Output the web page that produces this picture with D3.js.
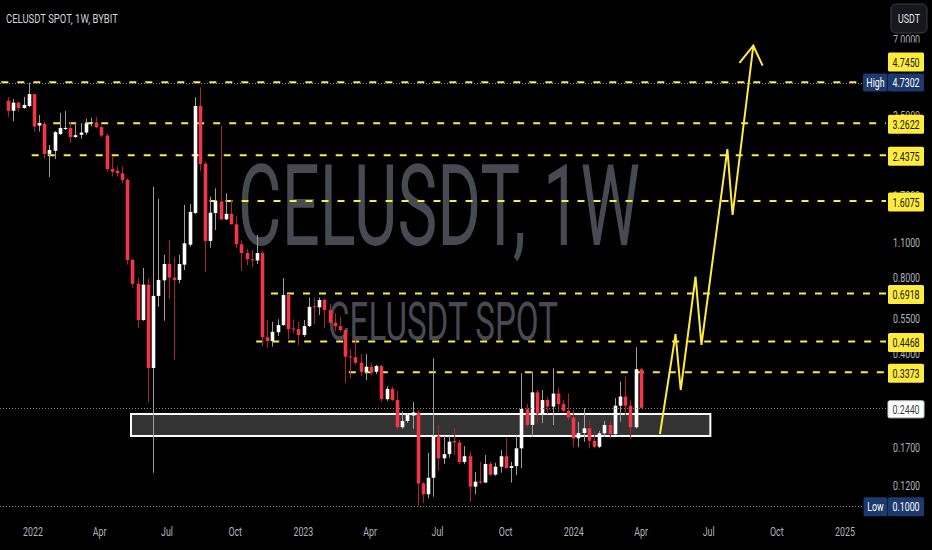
<!DOCTYPE html>
<html>
<head>
<meta charset="utf-8">
<script src="https://cdn.jsdelivr.net/npm/d3@7/dist/d3.min.js"></script>
<style>
html,body{margin:0;padding:0;background:#000;overflow:hidden;}
svg{display:block;}
</style>
</head>
<body>
<svg id="chart" width="932" height="550"></svg>
<script>
// ---------------- data ----------------
const title = "CELUSDT SPOT, 1W, BYBIT";
const watermark = "CELUSDT, 1W";
const subWatermark = "CELUSDT SPOT";
const currency = "USDT";
const firstWeek = "2021-11-29";
const opens = [4.01,3.66,3.94,3.75,3.82,4.26,3.20,3.25,2.47,2.54,2.96,3.10,3.13,2.88,2.94,3.00,3.26,3.29,3.15,2.92,
2.15,2.12,2.07,1.95,0.94,0.755,0.543,0.75,0.351,0.677,0.78,0.905,0.80,0.783,0.90,1.08,1.44,3.82,2.26,1.117,
1.44,1.60,1.36,1.43,1.30,1.084,1.00,0.945,0.935,1.00,0.464,0.449,0.486,0.519,0.683,0.503,0.50,0.474,0.514,0.616,
0.61,0.652,0.595,0.53,0.514,0.496,0.39,0.387,0.368,0.339,0.355,0.339,0.357,0.264,0.29,0.262,0.2045,0.2165,0.2275,0.234,
0.1225,0.111,0.129,0.1887,0.154,0.16,0.1805,0.178,0.149,0.157,0.119,0.1247,0.1235,0.1462,0.1327,0.1427,0.157,0.141,0.1435,0.1687,
0.241,0.2087,0.281,0.2307,0.262,0.2467,0.278,0.2525,0.2375,0.2237,0.1848,0.194,0.2025,0.1807,0.1712,0.1935,0.2087,0.1922,0.2488,0.2705,
0.2488,0.2045,0.347];
const highs = [4.15,4.07,3.98,4.15,4.7302,4.27,3.52,3.30,2.68,3.04,3.59,3.65,3.30,3.31,3.27,3.40,3.43,3.47,3.20,2.98,
2.42,2.20,2.20,1.98,0.95,0.797,0.873,0.79,1.83,1.64,0.983,1.127,0.965,0.983,1.55,1.565,4.14,4.53,2.30,1.67,
1.805,3.19,1.725,1.62,1.40,1.12,1.04,1.03,1.18,1.02,0.543,0.534,0.547,0.797,0.69,0.547,0.534,0.543,0.668,0.668,
0.668,0.661,0.629,0.578,0.56,0.50,0.416,0.464,0.398,0.398,0.366,0.361,0.361,0.297,0.296,0.285,0.236,0.231,0.2575,0.2392,
0.124,0.162,0.383,0.2087,0.1887,0.1887,0.2025,0.182,0.172,0.164,0.136,0.149,0.1587,0.149,0.1478,0.166,0.186,0.149,0.1887,0.3345,
0.2527,0.339,0.287,0.287,0.27,0.35,0.294,0.262,0.2785,0.2392,0.2148,0.2435,0.2184,0.1977,0.1977,0.217,0.217,0.2665,0.31,0.3245,
0.262,0.424,0.352];
const lows = [3.46,3.33,3.63,3.73,3.78,3.02,3.03,2.36,2.00,2.36,2.93,3.07,2.73,2.86,2.84,2.94,3.17,3.12,2.88,2.10,
2.01,2.01,1.89,0.90,0.73,0.505,0.54,0.257,0.135,0.613,0.54,0.658,0.377,0.76,0.857,1.06,1.43,2.11,0.843,1.05,
1.234,1.35,1.35,1.30,1.045,0.852,0.897,0.88,0.905,0.426,0.42,0.426,0.47,0.515,0.456,0.482,0.433,0.465,0.51,0.524,
0.569,0.504,0.524,0.49,0.488,0.305,0.319,0.361,0.326,0.3145,0.329,0.332,0.2575,0.26,0.2595,0.1994,0.2015,0.2126,0.2015,0.1000,
0.1025,0.107,0.1085,0.1375,0.1463,0.155,0.1587,0.146,0.146,0.1035,0.111,0.1217,0.123,0.1315,0.1315,0.1352,0.14,0.1235,0.1322,0.141,
0.2045,0.1875,0.2117,0.212,0.2307,0.2087,0.235,0.2335,0.2184,0.1703,0.1703,0.179,0.1687,0.1687,0.169,0.1875,0.1848,0.1905,0.215,0.2286,
0.1833,0.2025,0.2425];
const closes = [3.66,3.94,3.75,3.86,4.26,3.17,3.27,2.47,2.56,3.01,3.13,3.13,2.88,2.93,3.00,3.26,3.29,3.15,2.92,2.15,
2.10,2.07,1.947,0.939,0.755,0.543,0.75,0.351,0.677,0.783,0.905,0.80,0.783,0.905,1.093,1.455,3.82,2.25,1.117,1.445,
1.61,1.36,1.43,1.30,1.084,1.00,0.945,0.939,1.00,0.464,0.449,0.488,0.519,0.683,0.499,0.499,0.474,0.514,0.613,0.612,
0.652,0.595,0.53,0.514,0.496,0.389,0.387,0.368,0.339,0.355,0.336,0.357,0.264,0.29,0.262,0.2045,0.2165,0.2286,0.234,0.1225,
0.111,0.129,0.1887,0.154,0.16,0.1792,0.178,0.149,0.157,0.119,0.1245,0.1235,0.1462,0.1327,0.1427,0.157,0.141,0.1435,0.1687,0.2414,
0.2087,0.281,0.2307,0.262,0.2467,0.278,0.2525,0.2375,0.2237,0.1848,0.194,0.2025,0.1807,0.1712,0.1935,0.2087,0.1922,0.2488,0.2705,0.2488,
0.2045,0.347,0.244];
const priceTicks = [7, 3.5, 1.7, 1.1, 0.8, 0.55, 0.4, 0.17, 0.12];
const timeTicks = ["2022-01-01","2022-04-01","2022-07-01","2022-10-01","2023-01-01","2023-04-01","2023-07-01",
  "2023-10-01","2024-01-01","2024-04-01","2024-07-01","2024-10-01","2025-01-01"];
const levelPrices = [4.745, 3.2622, 2.4375, 1.6075, 0.6918, 0.4468, 0.3373];
const levelStarts = ["2021-11-20","2022-01-29","2021-12-31","2022-08-28","2022-11-19","2022-10-30","2023-03-04"];
const zoneDates = ["2022-05-14", "2024-07-04"];
const zonePrices = [0.2307, 0.1888];
const projDates = ["2024-04-27","2024-05-18","2024-05-25","2024-06-14","2024-06-22","2024-07-27","2024-08-03","2024-08-31"];
const projPrices = [0.1922, 0.478, 0.287, 0.807, 0.433, 2.58, 1.415, 6.62];
const highValue = 4.7302, lowValue = 0.1000, lastValue = 0.2440;

// ---------------- style ----------------
const FONT = "Roboto, 'Liberation Sans', Arial, sans-serif";
const SX = 0.68;
const UP = "#ffffff", UP_WICK = "#9e9e9e", DN = "#f23645", DN_WICK = "#a8242f";
const YEL = "#ffeb3b", NAVY = "#1c3a6e", AXIS_TXT = "#b2b5be";
const PLOT_R = 886;

const parse = d3.utcParse("%Y-%m-%d");
const t0 = parse(firstWeek);
const x = d3.scaleUtc().domain([t0, d3.utcDay.offset(t0, 854)]).range([8, 640.7]);
const y = d3.scaleLog().domain([0.1, 7]).range([505.7, 39.6]);
const fmt = d3.format(".4f");

const svg = d3.select("#chart");
svg.append("rect").attr("width", 932).attr("height", 550).attr("fill", "#000");
svg.append("defs").append("clipPath").attr("id", "plot")
  .append("rect").attr("x", 0).attr("y", 0).attr("width", PLOT_R).attr("height", 520);

function fitText(sel, cx, base, w) {
  const bw = sel.node().getComputedTextLength();
  sel.attr("transform", `translate(${cx},${base}) scale(${w / bw},1)`);
  return sel;
}
function sText(g, str, cx, cy, size, fill, anchor) {
  return g.append("text").attr("transform", `translate(${cx},${cy}) scale(${SX},1)`)
    .attr("text-anchor", anchor || "middle").attr("dy", "0.35em")
    .attr("font-family", FONT).attr("font-size", size).attr("fill", fill).text(str);
}

// watermarks
const wm = svg.append("g").attr("fill", "#474a53").attr("font-family", FONT).attr("text-anchor", "middle");
fitText(wm.append("text").attr("font-size", 113).text(watermark), 439, 245, 402);
fitText(wm.append("text").attr("font-size", 53).text(subWatermark), 443, 340, 230);

const plot = svg.append("g").attr("clip-path", "url(#plot)");

// support zone
plot.append("rect")
  .attr("x", x(parse(zoneDates[0]))).attr("width", x(parse(zoneDates[1])) - x(parse(zoneDates[0])))
  .attr("y", y(zonePrices[0])).attr("height", y(zonePrices[1]) - y(zonePrices[0]))
  .attr("fill", "#333333").attr("stroke", "#ffffff").attr("stroke-width", 2);

// grey dotted price lines
const dotted = [[highValue, 863], [lastValue, 888], [lowValue, 864]];
svg.selectAll("line.dot").data(dotted).join("line").attr("class", "dot")
  .attr("x1", 0).attr("x2", d => d[1])
  .attr("y1", d => Math.round(y(d[0])) + 0.5).attr("y2", d => Math.round(y(d[0])) + 0.5)
  .attr("stroke", "#8a8a8a").attr("stroke-width", 1).attr("stroke-dasharray", "1,2");

// yellow dashed levels
plot.selectAll("line.lvl").data(levelPrices).join("line").attr("class", "lvl")
  .attr("x1", (d, i) => x(parse(levelStarts[i]))).attr("x2", PLOT_R)
  .attr("y1", d => y(d)).attr("y2", d => y(d))
  .attr("stroke", YEL).attr("stroke-width", 2).attr("stroke-dasharray", "7,9");

// candles
const bars = opens.map((o, i) => ({ t: d3.utcDay.offset(t0, 7 * i), o, h: highs[i], l: lows[i], c: closes[i] }));
const cg = plot.selectAll("g.c").data(bars).join("g").attr("class", "c");
cg.append("rect")
  .attr("x", d => Math.round(x(d.t))).attr("width", 1)
  .attr("y", d => y(d.h)).attr("height", d => Math.max(1, y(d.l) - y(d.h)))
  .attr("fill", d => d.c >= d.o ? UP_WICK : DN_WICK);
cg.append("rect")
  .attr("x", d => Math.round(x(d.t)) + 0.5 - 1.8).attr("width", 3.6)
  .attr("y", d => y(Math.max(d.o, d.c))).attr("height", d => Math.max(1, Math.abs(y(d.o) - y(d.c))))
  .attr("fill", d => d.c >= d.o ? UP : DN);

// projection path with arrow
const pts = projDates.map((d, i) => [x(parse(d)), y(projPrices[i])]);
svg.append("path").attr("d", d3.line()(pts)).attr("fill", "none")
  .attr("stroke", YEL).attr("stroke-width", 2).attr("stroke-linejoin", "miter");
const p1 = pts[pts.length - 2], p2 = pts[pts.length - 1];
const ang = Math.atan2(p2[1] - p1[1], p2[0] - p1[0]), AL = 22, AA = 32 * Math.PI / 180;
const w1 = [p2[0] - AL * Math.cos(ang - AA), p2[1] - AL * Math.sin(ang - AA)];
const w2 = [p2[0] - AL * Math.cos(ang + AA), p2[1] - AL * Math.sin(ang + AA)];
svg.append("path").attr("d", d3.line()([w1, p2, w2])).attr("fill", "none")
  .attr("stroke", YEL).attr("stroke-width", 2).attr("stroke-linejoin", "miter");

// x axis
const xa = svg.append("g").attr("transform", "translate(0,527)")
  .call(d3.axisBottom(x).tickValues(timeTicks.map(parse)).tickSize(0).tickPadding(0)
    .tickFormat(d => d.getUTCMonth() === 0 ? d3.utcFormat("%Y")(d) : d3.utcFormat("%b")(d)));
xa.select(".domain").remove();
xa.selectAll("text").attr("fill", AXIS_TXT).attr("font-family", FONT).attr("font-size", 13)
  .attr("transform", `scale(${SX},1)`);

// y axis
const ya = svg.append("g").attr("transform", "translate(906.5,0)")
  .call(d3.axisRight(y).tickValues(priceTicks).tickSize(0).tickPadding(0).tickFormat(fmt));
ya.select(".domain").remove();
ya.selectAll("text").attr("fill", AXIS_TXT).attr("font-family", FONT).attr("font-size", 13)
  .attr("text-anchor", "middle").attr("transform", `scale(${SX},1)`);

// price labels
const lab = svg.append("g");
function box(g, x0, w, cy, h, fill, stroke) {
  g.append("rect").attr("x", x0).attr("y", cy - h / 2).attr("width", w).attr("height", h)
    .attr("rx", 1.5).attr("fill", fill).attr("stroke", stroke || "none");
}
const yHigh = y(highValue);
// backdrop behind top label (hides lower half of the top tick, as in the reference)
lab.append("rect").attr("x", 887).attr("y", 42.5).attr("width", 38).attr("height", 28).attr("fill", "#000");
levelPrices.forEach((v, i) => {
  const cy = i === 0 ? yHigh - 20.5 : y(v) + 1;
  box(lab, 888, 36, cy, 19, YEL);
  sText(lab, fmt(v), 906, cy, 13, "#131722");
});
// high
box(lab, 863, 24.5, yHigh, 18, NAVY);
box(lab, 888, 36, yHigh, 18, NAVY);
sText(lab, "High", 875.5, yHigh, 13, "#ffffff");
sText(lab, fmt(highValue), 906, yHigh, 13, "#ffffff");
// last price
box(lab, 888, 36, y(lastValue) + 1.5, 17, "#ffffff", "#cfcfcf");
sText(lab, fmt(lastValue), 906, y(lastValue) + 1.5, 13, "#3a3d45");
// low
const yLow = y(lowValue) + 1;
box(lab, 863.5, 24, yLow, 19, NAVY);
box(lab, 888, 36, yLow, 19, NAVY);
sText(lab, "Low", 875.5, yLow, 13, "#ffffff");
sText(lab, fmt(lowValue), 906, yLow, 13, "#ffffff");

// currency button
svg.append("rect").attr("x", 891).attr("y", 4).attr("width", 36).attr("height", 29).attr("rx", 5)
  .attr("fill", "#16181d").attr("stroke", "#3a3d45");
sText(svg, currency, 909, 18.5, 13, "#e0e3eb");

// title
fitText(svg.append("text").attr("font-family", FONT).attr("font-size", 12).attr("fill", "#d1d4dc")
  .attr("text-anchor", "start").text(title), 6, 23.3, 112);
</script>
</body>
</html>
